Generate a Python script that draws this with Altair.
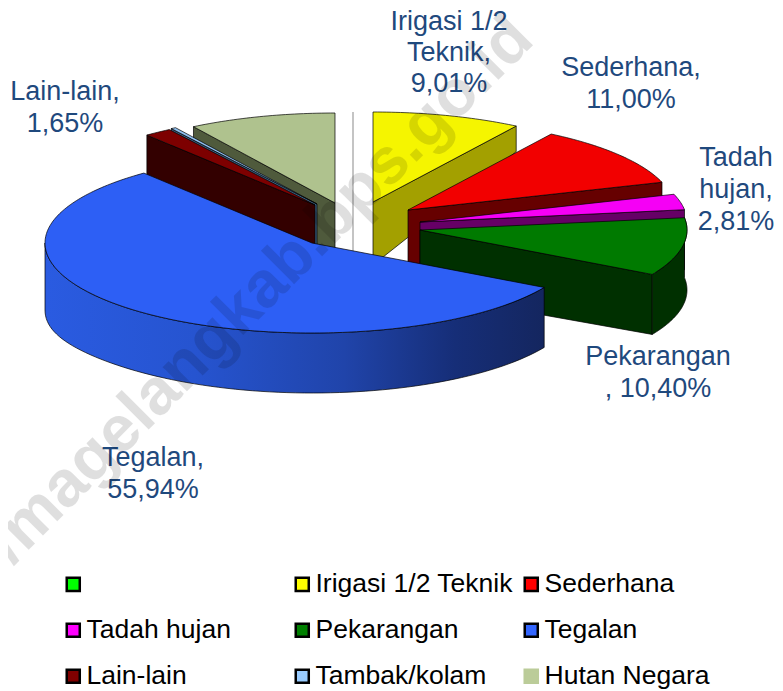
import math
import altair as alt
import pandas as pd

NAMES = [" ", "Irigasi 1/2 Teknik", "Sederhana", "Tadah hujan", "Pekarangan",
         "Tegalan", "Lain-lain", "Tambak/kolam", "Hutan Negara"]
VALUES = [0.0, 9.01, 11.00, 2.81, 10.40, 55.94, 1.65, 0.30, 8.89]
LEGEND_COLORS = ["#00ff00", "#ffff00", "#ff0000", "#ff00ff", "#008000",
                 "#3366ff", "#800000", "#99ccff", "#bbcc99"]
LEGEND_EDGES = ["#000000"] * 8 + ["#bbcc99"]
TOP_COLORS = ["#c4c4c4", "#f5f500", "#f20000", "#f500f5", "#007a00",
              "#2d5ff5", "#7d0000", "#8fbfef", "#afc28e"]
SIDE_COLORS = ["#c4c4c4", "#a3a000", "#660000", "#660066", "#003000",
               "#14265f", "#330000", "#3a5f7f", "#4f5a3c"]
LABEL_TEXT_COLOR = "#1f497d"
WATERMARK = "http://magelangkab.bps.go.id"

# layout of the exploded pie: where each slice's tip sits after the explosion
TIP = {0: (353, 202), 1: (373, 202), 2: (408, 210), 3: (420, 222), 4: (420, 230),
       5: (312, 243), 6: (315, 205), 7: (317, 204), 8: (335, 203)}
RX, RY, TIP_DEPTH = 267, 90, 63
W, H = 767, 683

cum = [0.0]
for v in VALUES:
    cum.append(cum[-1] + v)
ang = [c * 3.6 for c in cum]


def rim(i, deg):
    t = math.radians(deg)
    return TIP[i][0] + RX * math.sin(t), TIP[i][1] - RY * math.cos(t)


def depth(deg):
    t = math.radians(deg)
    s, c = math.sin(t), math.cos(t)
    left = 7 * abs(s) ** 8 if s < 0 else 0
    return 60 + left - 100 * max(0.0, c - 0.5)


class Bag:
    def __init__(self):
        self.rows = []

    def poly(self, pid, pts, fill, stroke="#000000", width=0.7):
        pts = list(pts) + [pts[0]]
        for k, (x, y) in enumerate(pts):
            self.rows.append(dict(pid=pid, k=k, x=x, y=y, fill=fill, stroke=stroke, w=width))


back, front = Bag(), Bag()
n_id = [0]


def nid():
    n_id[0] += 1
    return n_id[0]


def top(bag, i):
    a0, a1 = ang[i], ang[i + 1]
    n = max(2, int(a1 - a0) + 1)
    arc = [rim(i, a0 + (a1 - a0) * j / n) for j in range(n + 1)]
    bag.poly(nid(), [TIP[i]] + arc, TOP_COLORS[i])


def cut(bag, i, deg, d=None):
    x, y = rim(i, deg)
    d = depth(deg) if d is None else d
    tx, ty = TIP[i]
    bag.poly(nid(), [(tx, ty), (x, y), (x, y + d), (tx, ty + TIP_DEPTH)], SIDE_COLORS[i])


def wall(bag, i, a0, a1, stroke="#000000"):
    degs = [a0 + (a1 - a0) * j / 80 for j in range(81)]
    upper = [rim(i, a) for a in degs]
    lower = [(x, y + depth(a)) for (x, y), a in zip(upper, degs)]
    bag.poly(nid(), upper + lower[::-1], SIDE_COLORS[i], stroke)


# back to front
cut(back, 8, ang[8]); top(back, 8)
cut(back, 7, ang[7], 40); top(back, 7)
cut(back, 6, ang[6], 40); top(back, 6)
cut(back, 1, ang[2]); top(back, 1)
back.poly(nid(), [TIP[0], rim(0, 0), (rim(0, 0)[0], TIP[0][1] + TIP_DEPTH)], "transparent", "#c4c4c4", 2)
cut(back, 2, ang[3]); top(back, 2)
cut(back, 3, ang[4]); top(back, 3)
cut(back, 4, ang[5]); wall(back, 4, ang[4], ang[5]); top(back, 4)

blue_wall = Bag()
wall(blue_wall, 5, ang[5], 270)
top(front, 5)

x_s = alt.Scale(domain=[8, 8 + W], range=[0, W], nice=False, zero=False)
y_s = alt.Scale(domain=[8, 8 + H], range=[0, H], nice=False, zero=False)


def faces(bag):
    return alt.Chart(pd.DataFrame(bag.rows)).mark_line(filled=True, interpolate="linear").encode(
        x=alt.X("x:Q", scale=x_s, axis=None),
        y=alt.Y("y:Q", scale=y_s, axis=None),
        detail="pid:N",
        order="k:Q",
        fill=alt.Fill("fill:N", scale=None),
        stroke=alt.Stroke("stroke:N", scale=None),
        strokeWidth=alt.StrokeWidth("w:Q", scale=None),
    )


wall_layer = alt.Chart(pd.DataFrame(blue_wall.rows)).mark_line(
    filled=True, interpolate="linear", stroke="#000000", strokeWidth=0.7,
    fill=alt.Gradient(gradient="linear", x1=0, x2=1, y1=0, y2=0, stops=[
        alt.GradientStop(offset=0.0, color="#2a5be1"),
        alt.GradientStop(offset=0.3, color="#2654d0"),
        alt.GradientStop(offset=0.6, color="#2044aa"),
        alt.GradientStop(offset=0.82, color="#162e78"),
        alt.GradientStop(offset=1.0, color="#14265f"),
    ]),
).encode(
    x=alt.X("x:Q", scale=x_s, axis=None),
    y=alt.Y("y:Q", scale=y_s, axis=None),
    order="k:Q",
)


def pct(v):
    return f"{v:.2f}%".replace(".", ",")


label_rows = []


def lab(x, y, lines, pitch=32):
    for j, t in enumerate(lines):
        label_rows.append(dict(x=x, y=y + j * pitch, t=t))


lab(449, 21.5, ["Irigasi 1/2", "Teknik,", pct(VALUES[1])], 31.25)
lab(631, 68, [NAMES[2] + ",", pct(VALUES[2])])
lab(736, 158, ["Tadah", "hujan,", pct(VALUES[3])])
lab(658, 357, [NAMES[4], ", " + pct(VALUES[4])])
lab(153, 458, [NAMES[5] + ",", pct(VALUES[5])])
lab(65, 92, [NAMES[6] + ",", pct(VALUES[6])])

labels = alt.Chart(pd.DataFrame(label_rows)).mark_text(
    font="Liberation Sans", fontSize=27, color=LABEL_TEXT_COLOR, baseline="middle", align="center"
).encode(x=alt.X("x:Q", scale=x_s), y=alt.Y("y:Q", scale=y_s), text="t:N")

legend_def = alt.Legend(
    title=None, orient="none", legendX=52, legendY=563, columns=3, direction="horizontal",
    gridAlign="all", symbolType="square", symbolSize=170,
    symbolOpacity=1, symbolStrokeWidth=2.5,
    labelFont="Liberation Sans", labelFontSize=26.5, labelColor="#000000",
    labelOffset=0, rowPadding=19, columnPadding=5, labelLimit=260,
    symbolOffset=0, padding=0,
)
legend_layer = alt.Chart(pd.DataFrame({"name": NAMES})).mark_square(opacity=0, size=0).encode(
    color=alt.Color("name:N", scale=alt.Scale(domain=NAMES, range=LEGEND_COLORS), sort=NAMES,
                    legend=legend_def),
    stroke=alt.Stroke("name:N", scale=alt.Scale(domain=NAMES, range=LEGEND_EDGES), sort=NAMES,
                      legend=legend_def),
)

wm = alt.Chart(pd.DataFrame({"x": [522], "y": [28], "t": [WATERMARK]})).mark_text(
    font="Liberation Sans", fontWeight="bold", fontSize=65, color="#000000", opacity=0.12,
    angle=315, align="right", baseline="middle"
).encode(x=alt.X("x:Q", scale=x_s), y=alt.Y("y:Q", scale=y_s), text="t:N")

chart = alt.layer(faces(back), wall_layer, faces(front), labels, wm, legend_layer).properties(
    width=W, height=H, padding=0, autosize=alt.AutoSizeParams(type="none"),
    background="white",
).configure_view(stroke=None)

chart.save("out.html", embed_options={"renderer": "svg", "actions": False})
